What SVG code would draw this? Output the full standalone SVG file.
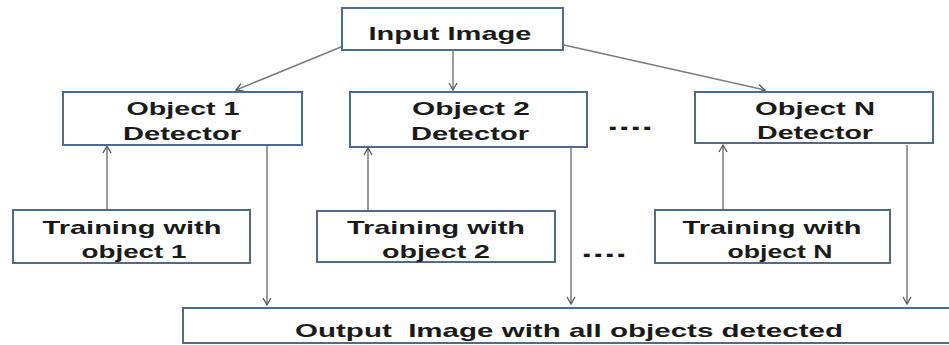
<svg xmlns="http://www.w3.org/2000/svg" width="949" height="345" viewBox="0 0 949 345">
<style>
.box{fill:#fff;stroke:#4f6a8c;stroke-width:2}
.t{font-family:"Liberation Sans",Arial,sans-serif;font-weight:bold;font-size:19px;fill:#1a1a1a;text-anchor:middle}
.c{stroke:#7a7a7a;stroke-width:1.5;fill:none;marker-end:url(#ah)}
.dots{font-family:"Liberation Sans",sans-serif;font-weight:bold;font-size:22px;fill:#1a1a1a}
</style>
<defs>
<marker id="ah" markerWidth="10" markerHeight="10" refX="8" refY="5" orient="auto" markerUnits="userSpaceOnUse">
<path d="M1,1 L8,5 L1,9" fill="none" stroke="#555" stroke-width="1.3"/>
</marker>
</defs>
<rect width="949" height="345" fill="#fff"/>
<g id="connectors">
<line class="c" x1="341" y1="47" x2="236" y2="90"/>
<line class="c" x1="453" y1="50" x2="453" y2="90"/>
<line class="c" x1="564" y1="45" x2="765" y2="90"/>
<line class="c" x1="107" y1="210" x2="107" y2="146"/>
<line class="c" x1="368" y1="211" x2="368" y2="148"/>
<line class="c" x1="723" y1="210" x2="723" y2="145"/>
<line class="c" x1="267" y1="145" x2="267" y2="305"/>
<line class="c" x1="571" y1="148" x2="571" y2="304"/>
<line class="c" x1="907" y1="145" x2="907" y2="304"/>
</g>
<g id="input"><rect class="box" x="342" y="8" width="221" height="42"/><text class="t" x="450" y="40" textLength="163" lengthAdjust="spacingAndGlyphs">Input Image</text></g>
<g id="det1"><rect class="box" x="63" y="92" width="239" height="53"/><text class="t" x="183" y="115" textLength="113" lengthAdjust="spacingAndGlyphs">Object 1</text><text class="t" x="182" y="140" textLength="118" lengthAdjust="spacingAndGlyphs">Detector</text></g>
<g id="det2"><rect class="box" x="350" y="92" width="237" height="55"/><text class="t" x="471" y="115" textLength="118" lengthAdjust="spacingAndGlyphs">Object 2</text><text class="t" x="470" y="140" textLength="118" lengthAdjust="spacingAndGlyphs">Detector</text></g>
<g id="detN"><rect class="box" x="695" y="92" width="238" height="51"/><text class="t" x="815" y="115" textLength="120" lengthAdjust="spacingAndGlyphs">Object N</text><text class="t" x="815" y="139" textLength="116" lengthAdjust="spacingAndGlyphs">Detector</text></g>
<g id="train1"><rect class="box" x="13" y="210" width="237" height="53"/><text class="t" x="132" y="234" textLength="179" lengthAdjust="spacingAndGlyphs">Training with</text><text class="t" x="134" y="258" textLength="105" lengthAdjust="spacingAndGlyphs">object 1</text></g>
<g id="train2"><rect class="box" x="317" y="211" width="238" height="51"/><text class="t" x="436" y="234" textLength="178" lengthAdjust="spacingAndGlyphs">Training with</text><text class="t" x="436" y="258" textLength="108" lengthAdjust="spacingAndGlyphs">object 2</text></g>
<g id="trainN"><rect class="box" x="655" y="210" width="235" height="53"/><text class="t" x="772" y="234" textLength="179" lengthAdjust="spacingAndGlyphs">Training with</text><text class="t" x="780" y="258" textLength="105" lengthAdjust="spacingAndGlyphs">object N</text></g>
<g id="output"><rect class="box" x="183" y="308" width="770" height="35"/><text class="t" x="569" y="337" xml:space="preserve" textLength="548" lengthAdjust="spacingAndGlyphs">Output  Image with all objects detected</text></g>
<text class="dots" x="607" y="130" textLength="46" lengthAdjust="spacingAndGlyphs">....</text>
<text class="dots" x="581" y="257" textLength="46" lengthAdjust="spacingAndGlyphs">....</text>
</svg>
